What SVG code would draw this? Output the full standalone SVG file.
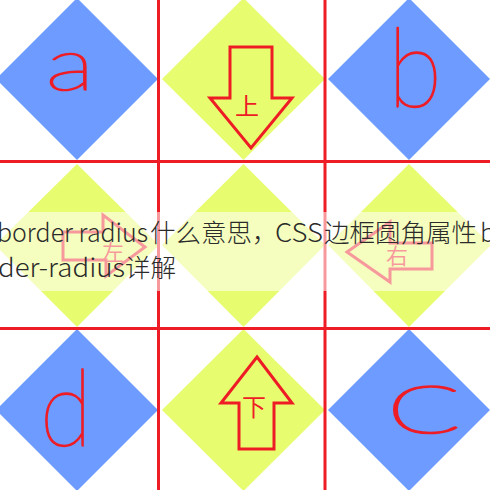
<svg xmlns="http://www.w3.org/2000/svg" width="490" height="490" viewBox="0 0 490 490">
  <style>
    .blue { fill: #6E9BFF; }
    .yellow { fill: #E8FC70; }
    .arrow { fill: none; stroke: #EE1C25; stroke-width: 3; stroke-linejoin: miter; }
    .grid { stroke: #EE1C25; stroke-width: 3; }
    .hand { fill: #EE1C25; stroke: #EE1C25; stroke-width: 1.6; stroke-linejoin: round; font-family: Lato, "DejaVu Sans", sans-serif; font-weight: 200; text-anchor: middle; }
    .lbl { fill: #EE1C25; font-family: "Noto Sans CJK SC", sans-serif; text-anchor: middle; dominant-baseline: central; }
    .title { fill: #2B2B2B; font-family: "Noto Sans CJK SC", "Noto Sans", sans-serif; font-size: 25.5px; font-weight: 300; }
  </style>
  <rect width="490" height="490" fill="#FFFFFF"/>

  <g id="cell-a">
    <polygon class="blue" points="77,-2 158,79 77,160 -4,79"/>
    <text class="hand" font-size="74" transform="translate(70,90) scale(1.4,1)">a</text>
  </g>
  <g id="cell-up">
    <polygon class="yellow" points="243.5,-2 325,79 243.5,160 162,79"/>
    <polygon class="arrow" points="230,47 272,47 272,98 292,98 251,148 210,98 230,98"/>
    <text class="lbl" font-size="24" x="247" y="104">上</text>
  </g>
  <g id="cell-b">
    <polygon class="blue" points="409,-2 490,79 409,160 328,79"/>
    <text class="hand" font-size="110" transform="translate(415,107) scale(0.9,1)">b</text>
  </g>

  <g id="cell-left">
    <polygon class="yellow" points="77,164 159,245 77,327 -5,245"/>
    <polygon class="arrow" points="63,232 103,232 103,215 145,247 106,276 106,260 63,260"/>
    <text class="lbl" font-size="22" x="113" y="250">左</text>
  </g>
  <g id="cell-center">
    <polygon class="yellow" points="243.5,164 325,245 243.5,327 162,245"/>
  </g>
  <g id="cell-right">
    <polygon class="yellow" points="409,164 491,245 409,327 328,245"/>
    <polygon class="arrow" points="347,252 390,222 390,243 432,243 432,269 390,269 390,282"/>
    <text class="lbl" font-size="22" x="397" y="254">右</text>
  </g>

  <g id="cell-d">
    <polygon class="blue" points="77,329 158,410 77,491 -4,410"/>
    <text class="hand" font-size="106" transform="translate(66,446) scale(0.9,1)">d</text>
  </g>
  <g id="cell-down">
    <polygon class="yellow" points="243.5,329 325,410 243.5,491 162,410"/>
    <polygon class="arrow" points="257,357 292,403 274,403 274,449 239,449 239,403 221,403"/>
    <text class="lbl" font-size="24" x="254" y="405">下</text>
  </g>
  <g id="cell-c">
    <polygon class="blue" points="409,329 490,410 409,491 328,410"/>
    <text class="hand" font-size="95" transform="translate(424,433) scale(1.8,1)">c</text>
  </g>

  <g id="connectors">
    <line class="grid" x1="158.5" y1="0" x2="158.5" y2="490"/>
    <line class="grid" x1="325" y1="0" x2="325" y2="490"/>
    <line class="grid" x1="0" y1="161.5" x2="490" y2="161.5"/>
    <line class="grid" x1="0" y1="328.5" x2="490" y2="328.5"/>
  </g>

  <g id="caption">
    <rect x="0" y="212" width="490" height="79" fill="#FFFFFF" fill-opacity="0.55"/>
    <text class="title" y="242"><tspan x="-3" textLength="151" lengthAdjust="spacingAndGlyphs">border radius</tspan><tspan x="150">什么意思，</tspan><tspan x="275" textLength="48" lengthAdjust="spacingAndGlyphs">CSS</tspan><tspan x="324">边框圆角属性</tspan><tspan x="480">b</tspan></text>
    <text class="title" y="277"><tspan x="-2" textLength="127" lengthAdjust="spacingAndGlyphs">der-radius</tspan><tspan x="125">详解</tspan></text>
  </g>
</svg>
